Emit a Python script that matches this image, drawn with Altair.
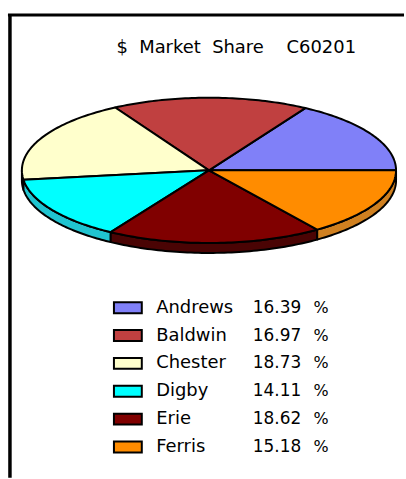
import numpy as np
import pandas as pd
import altair as alt

# Company shares of the market, in percent
companies = ["Andrews", "Baldwin", "Chester", "Digby", "Erie", "Ferris"]
shares = [16.39, 16.97, 18.73, 14.11, 18.62, 15.18]
top_colors = ["#8080F8", "#C04040", "#FFFFCC", "#00FFFF", "#800000", "#FF8C00"]
side_colors = ["#5050A0", "#802828", "#A0A080", "#20C4D0", "#4A0404", "#D08020"]
title_text = "$\u00a0\u00a0Market\u00a0\u00a0Share\u00a0\u00a0\u00a0\u00a0C60201"

W, H = 406, 479
CX, CY, RX, RY = 210, 170, 188, 73
DEPTH = 10 / RY  # rim thickness, in units of the vertical radius

x_scale = alt.Scale(domain=[-CX / RX, (W - CX) / RX], range=[0, W], nice=False, zero=False)
y_scale = alt.Scale(domain=[-(H - CY) / RY, CY / RY], range=[H, 0], nice=False, zero=False)

edges = np.concatenate([[0.0], np.cumsum(shares)]) * 3.6


def outline(points):
    xs, ys = zip(*points)
    return pd.DataFrame({"px": xs, "py": ys, "step": range(len(xs))})


def polygon(frame, fill):
    return (
        alt.Chart(frame)
        .mark_line(fill=fill, stroke="black", strokeWidth=2, strokeJoin="round", interpolate="linear")
        .encode(
            x=alt.X("px:Q", scale=x_scale, axis=None),
            y=alt.Y("py:Q", scale=y_scale, axis=None),
            order="step:Q",
        )
    )


def arc_points(start, end, drop=0.0):
    angles = np.radians(np.linspace(start, end, 60))
    return [(np.cos(a), np.sin(a) - drop) for a in angles]


layers = []

# Rim of the disc: only the part below the horizontal diameter can be seen
for i in range(len(companies)):
    start, end = max(edges[i], 180.0), edges[i + 1]
    if end > start:
        upper = arc_points(start, end)
        lower = arc_points(end, start, DEPTH)
        layers.append(polygon(outline(upper + lower + upper[:1]), side_colors[i]))

# Top face of the disc
for i in range(len(companies)):
    pts = [(0.0, 0.0)] + arc_points(edges[i], edges[i + 1]) + [(0.0, 0.0)]
    layers.append(polygon(outline(pts), top_colors[i]))

legend = pd.DataFrame(
    {
        "company": companies,
        "share": [f"{s:.2f}" for s in shares],
        "fill": top_colors,
        "row": range(len(companies)),
    }
)
row_y = alt.Y(
    "row:Q",
    scale=alt.Scale(domain=[0, len(companies) - 1], range=[308, 448], nice=False, zero=False),
    axis=None,
)

swatches = (
    alt.Chart(legend)
    .mark_rect(width=28, height=11, stroke="black", strokeWidth=2)
    .encode(
        x=alt.value(128.5),
        y=row_y,
        fill=alt.Fill("fill:N", scale=None, legend=None),
    )
)


def column(field, left, size):
    return (
        alt.Chart(legend)
        .mark_text(align="left", baseline="middle", font="DejaVu Sans", fontSize=size, color="black")
        .encode(x=alt.value(left), y=row_y, text=field)
    )


percent = (
    alt.Chart(legend)
    .transform_calculate(sign="'%'")
    .mark_text(align="left", baseline="middle", font="DejaVu Sans", fontSize=16, color="black")
    .encode(x=alt.value(315), y=row_y, text="sign:N")
)

legend_layer = alt.layer(swatches, column("company:N", 157, 18), column("share:N", 254, 17), percent)

title = (
    alt.Chart(pd.DataFrame({"label": [title_text]}))
    .mark_text(align="left", baseline="middle", font="DejaVu Sans", fontSize=18, color="black")
    .encode(x=alt.value(117), y=alt.value(47), text="label:N")
)

# Frame along the top and left edges of the page
frame_top = alt.Chart(pd.DataFrame({"a": [0]})).mark_rule(color="black", strokeWidth=3).encode(
    x=alt.value(8), x2=alt.value(W), y=alt.value(14)
)
frame_left = alt.Chart(pd.DataFrame({"a": [0]})).mark_rule(color="black", strokeWidth=3.5).encode(
    x=alt.value(10), y=alt.value(13), y2=alt.value(H)
)

disc = alt.layer(*layers)

chart = (
    alt.layer(disc, legend_layer, title, frame_top, frame_left)
    .resolve_scale(y="independent", x="independent")
    .properties(width=W, height=H, padding=0, background="white")
    .configure_view(stroke=None)
)

chart.save("out.html", embed_options={"renderer": "svg", "actions": False})
